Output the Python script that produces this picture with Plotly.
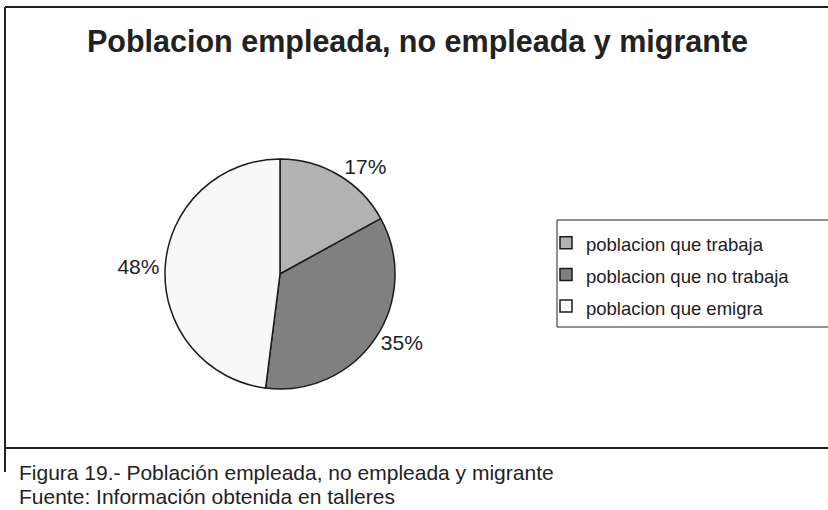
import plotly.graph_objects as go

categorias = ["poblacion que trabaja", "poblacion que no trabaja", "poblacion que emigra"]
porcentajes = [17, 35, 48]
colores = ["#b2b2b2", "#808080", "#f8f8f8"]

titulo = "Poblacion empleada, no empleada y migrante"
pie_figura = "Figura 19.- Población empleada, no empleada y migrante"
fuente = "Fuente: Información obtenida en talleres"

W, H = 828, 510
FONT = "Arial, Liberation Sans, sans-serif"


def px_x(x):
    return x / W


def px_y(y):
    return 1 - y / H


fig = go.Figure()
fig.add_trace(go.Pie(
    labels=["<span style='font-size:18.5px'>" + c + "</span>" for c in categorias],
    values=porcentajes,
    sort=False, direction="clockwise", rotation=0,
    marker=dict(colors=colores, line=dict(color="#1a1a1a", width=1.5)),
    texttemplate="%{value}%", textposition="outside",
    textfont=dict(family=FONT, size=21, color="#222"),
    domain=dict(x=[px_x(165), px_x(395)], y=[px_y(389), px_y(159)]),
    hoverinfo="label+percent",
))

# marco del grafico
linea = dict(color="#222", width=2)
fig.add_shape(type="line", xref="paper", yref="paper",
              x0=px_x(5), x1=1.01, y0=px_y(7), y1=px_y(7), line=linea)
fig.add_shape(type="line", xref="paper", yref="paper",
              x0=px_x(5), x1=1.01, y0=px_y(448), y1=px_y(448), line=linea)
fig.add_shape(type="line", xref="paper", yref="paper",
              x0=px_x(5), x1=px_x(5), y0=px_y(7), y1=px_y(472), line=linea)
# caja de la leyenda
fig.add_shape(type="rect", xref="paper", yref="paper",
              x0=px_x(557), x1=1.01, y0=px_y(327), y1=px_y(220),
              line=dict(color="#222", width=1))

fig.add_annotation(text="<b>" + titulo + "</b>", xref="paper", yref="paper",
                   x=px_x(417), y=px_y(41), xanchor="center", yanchor="middle",
                   showarrow=False, font=dict(family=FONT, size=30.5, color="#222"))
fig.add_annotation(text=pie_figura, xref="paper", yref="paper",
                   x=px_x(17), y=px_y(472), xanchor="left", yanchor="middle",
                   showarrow=False, font=dict(family=FONT, size=21, color="#222"))
fig.add_annotation(text=fuente, xref="paper", yref="paper",
                   x=px_x(17), y=px_y(496), xanchor="left", yanchor="middle",
                   showarrow=False, font=dict(family=FONT, size=21, color="#222"))

fig.update_layout(
    width=W, height=H,
    paper_bgcolor="white", plot_bgcolor="white",
    margin=dict(l=0, r=0, t=0, b=0),
    showlegend=True,
    legend=dict(x=px_x(546), y=px_y(222), xanchor="left", yanchor="top",
                borderwidth=0, bgcolor="rgba(0,0,0,0)",
                font=dict(family=FONT, size=22, color="#222")),
)

fig.write_html("out.html", config={"displayModeBar": False},
               post_script="document.body.style.margin='0px';")
